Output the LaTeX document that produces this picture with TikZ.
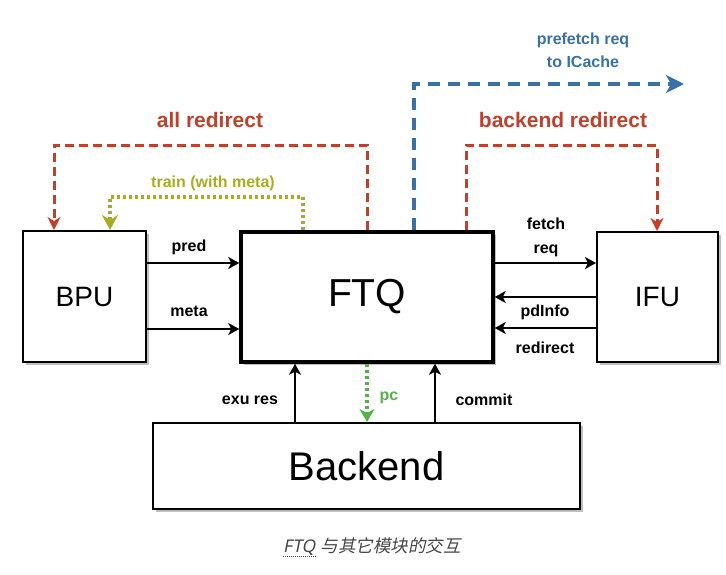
\documentclass[tikz,border=0pt]{standalone}
\usepackage{fontspec}
\setmainfont{Liberation Sans}
\newfontfamily\cjk[FakeSlant=0.2]{Noto Sans CJK SC}
\newfontfamily\capfont[FakeSlant=0.2]{Noto Sans}
\usetikzlibrary{arrows.meta}
\definecolor{rd}{RGB}{192,64,44}
\definecolor{bl}{RGB}{56,112,168}
\definecolor{ol}{RGB}{168,172,36}
\definecolor{gr}{RGB}{84,178,72}
\definecolor{capgray}{RGB}{70,70,70}
\tikzset{
  blk/.style={draw=black, line width=2pt, fill=white, inner sep=0pt, font=\fontsize{28}{30}\selectfont},
  shad/.style={fill=black!25},
  arr/.style={draw=black, line width=2pt, -{Stealth[length=11pt,width=12pt,inset=3pt]}},
  lbl/.style={inner sep=0pt, font=\fontsize{16}{18}\selectfont\bfseries},
  biglbl/.style={inner sep=0pt, font=\fontsize{21}{24}\selectfont\bfseries, text=rd},
  reddash/.style={draw=rd, line width=3pt, dash pattern=on 9pt off 5pt, -{Stealth[length=13pt,width=13pt,inset=4pt]}},
  bluedash/.style={draw=bl, line width=3.5pt, dash pattern=on 12pt off 8pt, -{Stealth[length=18pt,width=18pt,inset=5pt]}},
  oldot/.style={draw=ol, line width=3.5pt, dash pattern=on 3pt off 3pt, -{Stealth[length=15pt,width=16pt,inset=5pt]}},
  grdot/.style={draw=gr, line width=3.5pt, dash pattern=on 3pt off 3pt, -{Stealth[length=13pt,width=15pt,inset=4pt]}},
}
\begin{document}
\begin{tikzpicture}[x=1pt,y=-1pt]
\useasboundingbox (0,0) rectangle (726,574);
% shadows
\fill[shad] (26,234) rectangle (149,365);
\fill[shad] (600,235) rectangle (721,365);
\fill[shad] (156,426) rectangle (583,512);
\fill[shad] (244,235) rectangle (496,365);
% boxes
\node[blk, minimum width=123pt, minimum height=131pt] (bpu) at (84.5,296.5) {BPU};
\node[blk, line width=3.5pt, minimum width=252pt, minimum height=130pt, font=\fontsize{39}{42}\selectfont] (ftq) at (367,297) {FTQ};
\node[blk, minimum width=121pt, minimum height=130pt] (ifu) at (657.5,297) {IFU};
\node[blk, minimum width=427pt, minimum height=86pt, font=\fontsize{40}{44}\selectfont] (be) at (366.5,466) {Backend};
% solid arrows
\draw[arr] (bpu.east |- {(0,263)}) -- (ftq.west |- {(0,263)});
\draw[arr] (bpu.east |- {(0,329)}) -- (ftq.west |- {(0,329)});
\draw[arr] (ftq.east |- {(0,263)}) -- (ifu.west |- {(0,263)});
\draw[arr] (ifu.west |- {(0,297)}) -- (ftq.east |- {(0,297)});
\draw[arr] (ifu.west |- {(0,328)}) -- (ftq.east |- {(0,328)});
\draw[arr] (be.north -| {(295,0)}) -- (ftq.south -| {(295,0)});
\draw[arr] (be.north -| {(435,0)}) -- (ftq.south -| {(435,0)});
\draw[grdot] (ftq.south -| {(367,0)}) -- (be.north -| {(367,0)});
% labels
\node[lbl] (lpred) at (189,247) {pred};
\node[lbl] (lmeta) at (189,311) {meta};
\node[lbl] (lfetch) at (546,224) {fetch};
\node[lbl] (lreq) at (546,251) {req};
\node[lbl] (lpd) at (545,312) {pdInfo};
\node[lbl] (lredir) at (545,348) {redirect};
\node[lbl] (lexu) at (250,400) {exu res};
\node[lbl] (lcommit) at (484,400) {commit};
\node[lbl, text=gr] (lpc) at (389,398) {pc};
\node[lbl, text=ol] (ltrain) at (213,183) {train (with meta)};
\node[biglbl] (lall) at (210,120) {all redirect};
\node[biglbl] (lbe) at (563,120) {backend redirect};
\node[lbl, text=bl] (lpf1) at (583,40) {prefetch req};
\node[lbl, text=bl] (lpf2) at (583,62) {to ICache};
% top dashed connectors
\coordinate (pfend) at (684,84);
\draw[reddash] (ftq.north -| {(367,0)}) |- (54,145) -- (bpu.north -| {(54,0)});
\draw[oldot] (ftq.north -| {(303,0)}) |- (110,197) -- (bpu.north -| {(110,0)});
\draw[bluedash] (ftq.north -| {(414,0)}) |- (pfend);
\draw[reddash] (ftq.north -| {(466,0)}) |- (657,145) -- (ifu.north -| {(657,0)});
% caption
\node[inner sep=0pt, anchor=base west, text=capgray, font=\capfont\fontsize{17.5}{20}\selectfont] (capftq) at (283,552) {FTQ};
\node[inner sep=0pt, anchor=base west, text=capgray, font=\cjk\fontsize{17.5}{20}\selectfont] (capzh) at ([xshift=5pt]capftq.base east) {与其它模块的交互};
\draw[capgray, line width=0.8pt, dash pattern=on 1pt off 1pt] ([yshift=-4pt]capftq.base west) -- ([yshift=-4pt]capftq.base east);
\end{tikzpicture}
\end{document}
